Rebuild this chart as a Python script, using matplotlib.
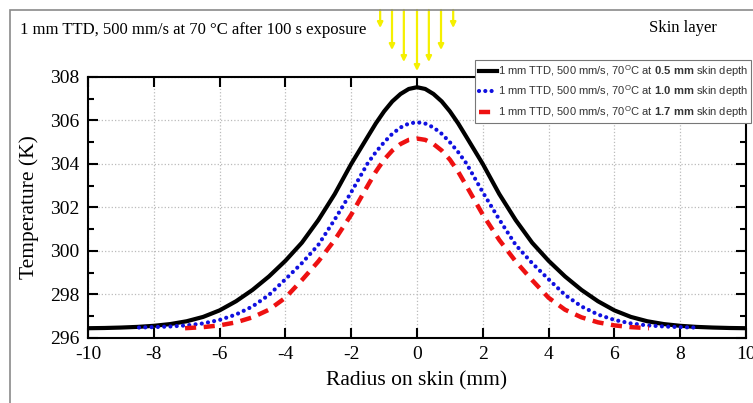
import matplotlib
matplotlib.use("Agg")
import matplotlib.pyplot as plt
from matplotlib.patches import Rectangle
import numpy as np

# radius on skin (mm) and temperature (K)
x_05 = [-10, -9.5, -9, -8.5, -8, -7.5, -7, -6.5, -6, -5.5, -5, -4.5, -4, -3.5, -3, -2.5,
        -2, -1.5, -1.25, -1, -0.75, -0.5, -0.25, 0, 0.25, 0.5, 0.75, 1, 1.25, 1.5, 2, 2.5,
        3, 3.5, 4, 4.5, 5, 5.5, 6, 6.5, 7, 7.5, 8, 8.5, 9, 9.5, 10]
t_05 = [296.45, 296.46, 296.48, 296.51, 296.56, 296.64, 296.77, 296.97, 297.27, 297.69,
        298.21, 298.83, 299.55, 300.38, 301.42, 302.62, 304.0, 305.25, 305.87, 306.42,
        306.88, 307.22, 307.45, 307.53, 307.45, 307.22, 306.88, 306.42, 305.87, 305.25,
        304.0, 302.62, 301.42, 300.38, 299.55, 298.83, 298.21, 297.69, 297.27, 296.97,
        296.77, 296.64, 296.56, 296.51, 296.48, 296.46, 296.45]

x_10 = [-8.45, -8, -7.5, -7, -6.5, -6, -5.5, -5, -4.5, -4, -3.5, -3, -2.5, -2, -1.5, -1.25,
        -1, -0.75, -0.5, -0.25, 0, 0.25, 0.5, 0.75, 1, 1.25, 1.5, 2, 2.5, 3, 3.5, 4, 4.5,
        5, 5.5, 6, 6.5, 7, 7.5, 8, 8.45]
t_10 = [296.48, 296.5, 296.53, 296.58, 296.67, 296.83, 297.08, 297.45, 297.98, 298.7,
        299.44, 300.28, 301.45, 302.7, 304.03, 304.55, 305.0, 305.39, 305.68, 305.86,
        305.92, 305.86, 305.68, 305.39, 305.0, 304.55, 304.03, 302.7, 301.45, 300.28,
        299.44, 298.7, 297.98, 297.45, 297.08, 296.83, 296.67, 296.58, 296.53, 296.5,
        296.48]

x_17 = [-7.05, -6.5, -6, -5.5, -5, -4.5, -4, -3.5, -3, -2.5, -2, -1.5, -1.25, -1, -0.75,
        -0.5, -0.25, 0, 0.25, 0.5, 0.75, 1, 1.25, 1.5, 2, 2.5, 3, 3.5, 4, 4.5, 5, 5.5, 6,
        6.5, 7.05]
t_17 = [296.45, 296.5, 296.58, 296.72, 296.95, 297.3, 297.85, 298.66, 299.52, 300.51,
        301.67, 303.0, 303.65, 304.2, 304.62, 304.92, 305.11, 305.17, 305.11, 304.92,
        304.62, 304.2, 303.65, 303.0, 301.67, 300.51, 299.52, 298.66, 297.85, 297.3,
        296.95, 296.72, 296.58, 296.5, 296.45]

labels = [
    r"1 mm TTD, 500 mm/s, 70$^{\mathrm{O}}$C at $\mathbf{0.5\ mm}$ skin depth",
    r"1 mm TTD, 500 mm/s, 70$^{\mathrm{O}}$C at $\mathbf{1.0\ mm}$ skin depth",
    r"1 mm TTD, 500 mm/s, 70$^{\mathrm{O}}$C at $\mathbf{1.7\ mm}$ skin depth",
]
arrow_x = [-1.12, -0.76, -0.4, 0.0, 0.36, 0.73, 1.1]
arrow_tip = [28, 50, 62, 71, 62, 50, 28]   # pixels from top

plt.rcParams["axes.unicode_minus"] = False
plt.rcParams["mathtext.fontset"] = "custom"
plt.rcParams["mathtext.rm"] = "Liberation Sans"
plt.rcParams["mathtext.bf"] = "Liberation Sans:bold"

W, H = 753, 403
fig = plt.figure(figsize=(W / 100, H / 100), dpi=100)
ax = fig.add_axes([88 / W, 1 - 338 / H, (746 - 88) / W, (338 - 77) / H])

# grey frame around the picture
fig.patches.append(Rectangle((10 / W, -0.1), 1.2, 1.1 - 10 / H, transform=fig.transFigure,
                             fill=False, edgecolor="#8a8a8a", lw=1.2))

l1, = ax.plot(x_05, t_05, color="black", lw=3)
l2, = ax.plot(x_10, t_10, color="#1010e0", lw=3, linestyle=(0, (0.01, 1.5)),
              dash_capstyle="round")
l3, = ax.plot(x_17, t_17, color="#ee1111", lw=3.2, linestyle=(0, (2.5, 1.7)))

ax.set_xlim(-10, 10)
ax.set_ylim(296, 308)
ax.set_xticks(np.arange(-10, 11, 2))
ax.set_yticks(np.arange(296, 309, 2))
ax.set_yticks(np.arange(297, 308, 2), minor=True)
ax.grid(True, which="major", linestyle=":", color="#bbbbbb", lw=0.9)
ax.tick_params(which="both", direction="in", top=True, right=True, width=1.5,
               labelsize=14, pad=6)
ax.tick_params(which="major", length=7)
ax.tick_params(which="minor", length=4)
for lab in ax.get_xticklabels() + ax.get_yticklabels():
    lab.set_family("Liberation Serif")
for sp in ax.spines.values():
    sp.set_linewidth(1.5)

ax.set_xlabel("Radius on skin (mm)", family="Liberation Serif", fontsize=15.5, labelpad=6)
ax.set_ylabel("Temperature (K)", family="Liberation Serif", fontsize=15.5, labelpad=8)

leg = ax.legend([l1, l2, l3], labels, loc="upper right",
                bbox_to_anchor=(751 / W, 1 - 60 / H), bbox_transform=fig.transFigure,
                prop={"family": "Liberation Sans", "size": 8}, fancybox=False,
                framealpha=1, edgecolor="#777777", borderaxespad=0, handlelength=1.6,
                handletextpad=0.1, labelspacing=0.4, borderpad=0.3)
leg.get_frame().set_linewidth(0.8)
for t in leg.get_texts():
    t.set_color("#333333")

fig.text(20 / W, 1 - 30 / H, "1 mm TTD, 500 mm/s at 70 °C after 100 s exposure",
         family="Liberation Serif", fontsize=12, va="center", ha="left")
fig.text(683 / W, 1 - 28 / H, "Skin layer", family="Liberation Serif", fontsize=12,
         va="center", ha="center")

for ax_x, tip in zip(arrow_x, arrow_tip):
    ax.annotate("", xy=(ax_x, 1 - tip / H), xytext=(ax_x, 1 - 10 / H),
                xycoords=("data", "figure fraction"), textcoords=("data", "figure fraction"),
                arrowprops=dict(arrowstyle="-|>", color="#f5f000", lw=1.6,
                                mutation_scale=8, shrinkA=0, shrinkB=0),
                annotation_clip=False)

fig.savefig("out.png", dpi=100)
